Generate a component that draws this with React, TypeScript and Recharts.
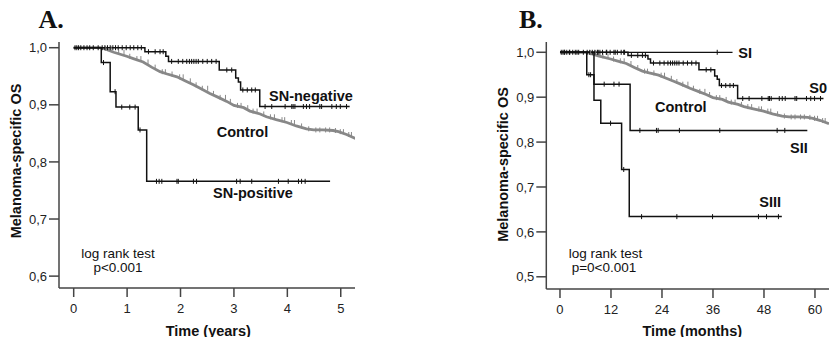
import React from 'react';
import { ComposedChart, Line, Scatter, XAxis, YAxis } from 'recharts';

// ---------- axes ----------
const monthTicks = [0, 12, 24, 36, 48, 60];
const yearTickLabels = ['0', '1', '2', '3', '4', '5'];
const monthTickLabels = ['0', '12', '24', '36', '48', '60'];
const osTicksA = [0.6, 0.7, 0.8, 0.9, 1.0];
const osTickLabelsA = ['0,6', '0,7', '0,8', '0,9', '1,0'];
const osTicksB = [0.5, 0.6, 0.7, 0.8, 0.9, 1.0];
const osTickLabelsB = ['0,5', '0,6', '0,7', '0,8', '0,9', '1,0'];

// ---------- curves (time in months, melanoma-specific OS) ----------
// Control group
const controlTimes = [0, 5.9, 6.6, 9, 11.9, 13.4, 15.6, 17.5, 19.4, 21, 23.2, 25, 26.9, 28.4, 30.6, 32.5, 34.4, 36, 38.2, 39.6, 41.9, 43.3, 45.5, 47.9, 50, 52.3, 53.9, 56, 58.3, 59.5, 61.3, 63.3];
const controlSurv = [1, 1, 0.999, 0.992, 0.985, 0.981, 0.975, 0.966, 0.958, 0.954, 0.949, 0.942, 0.935, 0.929, 0.92, 0.913, 0.906, 0.899, 0.895, 0.889, 0.884, 0.879, 0.874, 0.869, 0.863, 0.858, 0.856, 0.856, 0.855, 0.853, 0.848, 0.841];
const controlCensor = [7.2, 8.4, 10.1, 11.3, 12.6, 14.2, 15.1, 16.7, 18.3, 19.9, 20.6, 22.1, 23.8, 24.6, 26.2, 27.5, 28.9, 30.1, 31.4, 32.9, 34.1, 35.2, 36.8, 37.6, 39.1, 40.3, 41.2, 42.7, 44.2, 45.1, 46.8, 47.4, 48.9, 49.6, 51.2, 52.8, 54.4, 55.3, 56.6, 57.5, 58.8, 59.9, 60.6, 61.8, 62.4];

// SN-negative (= S0)
const snNegTimes = [0, 16, 20.7, 21.3, 32.7, 36.4, 37, 37.5, 41.8, 62];
const snNegSurv = [1, 0.993, 0.985, 0.976, 0.961, 0.947, 0.94, 0.926, 0.897, 0.897];
const snNegCensor = [0.3, 0.7, 1.1, 1.6, 2.3, 3, 3.6, 4.4, 5.5, 6.4, 7, 7.6, 8.2, 8.8, 9.4, 10, 10.9, 11.8, 12.7, 13.5, 14.4, 15.2, 16.8, 18.3, 19.4, 20.1, 22, 23.5, 24.5, 25.4, 26, 26.5, 27, 27.5, 28, 29, 30, 31, 32, 34.4, 35.5, 38, 39, 40, 40.8, 43, 44.5, 47.5, 49, 49.3, 49.7, 51.6, 52.3, 53, 55.3, 55.7, 58, 59, 59.9, 61.3];

// SN-positive
const snPosTimes = [0, 6.2, 8.2, 9.5, 14.5, 16.4, 57.6];
const snPosSurv = [1, 0.974, 0.923, 0.896, 0.856, 0.766, 0.766];
const snPosCensor = [6.7, 9.3, 10.8, 12.6, 13.8, 14.9, 18.6, 19.2, 19.8, 23.2, 23.5, 26.9, 27.6, 36.6, 37.4, 40, 46, 48.2, 50.5, 51.2, 52];

// SI
const s1Times = [0, 40.6];
const s1Surv = [1, 1];
const s1Censor = [1, 2.2, 4, 9, 11, 13, 15, 37];

// SII
const s2Times = [0, 6.3, 8, 16.5, 58.2];
const s2Surv = [1, 0.95, 0.929, 0.826, 0.826];
const s2Censor = [6.8, 7.2, 10.4, 12.7, 13.9, 18.8, 22.7, 23.1, 28.1, 37.6, 51.1, 52.9];

// SIII
const s3Times = [0, 8, 9.6, 14.5, 16.3, 52.2];
const s3Surv = [1, 0.893, 0.842, 0.739, 0.634, 0.634];
const s3Censor = [11.9, 15, 19.2, 27.5, 35.9, 46.7, 48.6, 51.4];

// ---------- helpers ----------
const toSteps = (times: number[], surv: number[]) => times.map((t, i) => ({ t, s: surv[i] }));
const survAt = (times: number[], surv: number[], t: number) => {
  let v = surv[0];
  for (let i = 0; i < times.length; i++) if (times[i] <= t) v = surv[i];
  return v;
};
const toMarks = (times: number[], surv: number[], censor: number[]) =>
  censor.map((t) => ({ t, s: survAt(times, surv, t) }));

const FONT = '"Liberation Sans", Arial, sans-serif';
const AXIS = '#444';

const tickShape = (color: string, h: number) => (p: any) => (
  <line x1={p.cx} x2={p.cx} y1={p.cy - h} y2={p.cy + h} stroke={color} strokeWidth={1} />
);

type Curve = { times: number[]; surv: number[]; censor: number[]; color: string; width: number; type: 'stepAfter' | 'linear'; tick: number };

const curvesA: Curve[] = [
  { times: controlTimes, surv: controlSurv, censor: controlCensor, color: '#888', width: 2.8, type: 'linear', tick: 2.5 },
  { times: snNegTimes, surv: snNegSurv, censor: snNegCensor, color: '#111', width: 1.5, type: 'stepAfter', tick: 2.5 },
  { times: snPosTimes, surv: snPosSurv, censor: snPosCensor, color: '#111', width: 1.5, type: 'stepAfter', tick: 2.5 },
];
const curvesB: Curve[] = [
  { times: controlTimes, surv: controlSurv, censor: controlCensor, color: '#888', width: 2.8, type: 'linear', tick: 2.5 },
  { times: s1Times, surv: s1Surv, censor: s1Censor, color: '#111', width: 1.3, type: 'stepAfter', tick: 2.5 },
  { times: snNegTimes, surv: snNegSurv, censor: snNegCensor, color: '#111', width: 1.5, type: 'stepAfter', tick: 2.5 },
  { times: s2Times, surv: s2Surv, censor: s2Censor, color: '#111', width: 1.5, type: 'stepAfter', tick: 2.5 },
  { times: s3Times, surv: s3Surv, censor: s3Censor, color: '#111', width: 1.5, type: 'stepAfter', tick: 2.5 },
];

function renderCurves(curves: Curve[], prefix: string) {
  const out: any[] = [];
  curves.forEach((c, i) => {
    out.push(
      <Line
        key={`${prefix}l${i}`}
        data={toSteps(c.times, c.surv)}
        dataKey="s"
        type={c.type}
        stroke={c.color}
        strokeWidth={c.width}
        dot={false}
        activeDot={false}
        isAnimationActive={false}
      />
    );
    out.push(
      <Scatter
        key={`${prefix}s${i}`}
        data={toMarks(c.times, c.surv, c.censor)}
        dataKey="s"
        shape={tickShape(c.color, c.tick)}
        isAnimationActive={false}
      />
    );
  });
  return out;
}

const tickStyle = { fontSize: 13, fill: '#222', fontFamily: FONT };

function PanelA() {
  return (
    <ComposedChart width={415} height={337} margin={{ top: 42, right: 60, bottom: 0, left: 0 }}>
      <XAxis
        dataKey="t"
        type="number"
        domain={[-3.3, 63.2]}
        allowDataOverflow
        ticks={monthTicks}
        tickFormatter={(v: number) => yearTickLabels[monthTicks.indexOf(v)]}
        height={49}
        tickSize={9}
        tickMargin={7}
        stroke={AXIS}
        strokeWidth={1.5}
        tick={tickStyle}
      />
      <YAxis
        type="number"
        domain={[0.5792, 1.01]}
        allowDataOverflow
        ticks={osTicksA}
        tickFormatter={(v: number) => osTickLabelsA[osTicksA.indexOf(v)]}
        width={59}
        tickSize={10}
        tickMargin={2}
        stroke={AXIS}
        strokeWidth={1.5}
        tick={tickStyle}
      />
      {renderCurves(curvesA, 'a')}
    </ComposedChart>
  );
}

function PanelB() {
  return (
    <ComposedChart width={415} height={337} margin={{ top: 42, right: 0, bottom: 0, left: 74 }}>
      <XAxis
        dataKey="t"
        type="number"
        domain={[-3.22, 63.3]}
        allowDataOverflow
        ticks={monthTicks}
        tickFormatter={(v: number) => monthTickLabels[monthTicks.indexOf(v)]}
        height={48}
        tickSize={9}
        tickMargin={7}
        stroke={AXIS}
        strokeWidth={1.5}
        tick={tickStyle}
      />
      <YAxis
        type="number"
        domain={[0.4728, 1.0229]}
        allowDataOverflow
        ticks={osTicksB}
        tickFormatter={(v: number) => osTickLabelsB[osTicksB.indexOf(v)]}
        width={58.3}
        tickSize={10}
        tickMargin={2}
        stroke={AXIS}
        strokeWidth={1.5}
        tick={tickStyle}
      />
      {renderCurves(curvesB, 'b')}
    </ComposedChart>
  );
}

const bold = { fontFamily: FONT, fontWeight: 700, fontSize: 14.5, fill: '#111' } as const;
const plain = { fontFamily: FONT, fontSize: 13.5, fill: '#111' } as const;

export default function App() {
  return (
    <div style={{ position: 'absolute', left: 0, top: 0, width: 829, height: 337, overflow: 'hidden', background: '#fff' }}>
      <div style={{ position: 'absolute', left: 0, top: 0 }}>
        <PanelA />
      </div>
      <div style={{ position: 'absolute', left: 414, top: 0 }}>
        <PanelB />
      </div>
      <svg width={829} height={337} style={{ position: 'absolute', left: 0, top: 0, pointerEvents: 'none' }}>
        <text x={38.5} y={27.5} style={{ fontFamily: '"Liberation Serif", "Times New Roman", serif', fontWeight: 700, fontSize: 26 }} fill="#111">A.</text>
        <text x={519} y={27.5} style={{ fontFamily: '"Liberation Serif", "Times New Roman", serif', fontWeight: 700, fontSize: 26 }} fill="#111">B.</text>

        <text transform="translate(15.3,161) rotate(-90)" dy="0.36em" textAnchor="middle" style={bold}>Melanoma-specific OS</text>
        <text transform="translate(503.2,164.5) rotate(-90)" dy="0.36em" textAnchor="middle" style={bold}>Melanoma-specific OS</text>
        <text x={208.3} y={335.5} textAnchor="middle" style={bold}>Time (years)</text>
        <text x={692.3} y={335.5} textAnchor="middle" style={bold}>Time (months)</text>

        <text x={269} y={101} style={bold}>SN-negative</text>
        <text x={216.7} y={136.7} style={bold}>Control</text>
        <text x={213} y={198.3} style={bold}>SN-positive</text>
        <text x={118} y={257.5} textAnchor="middle" style={plain}>log rank test</text>
        <text x={118} y={272} textAnchor="middle" style={plain}>p&lt;0.001</text>

        <text x={738.3} y={58.3} style={bold}>SI</text>
        <text x={809.3} y={93.3} style={bold}>S0</text>
        <text x={655} y={111.5} style={bold}>Control</text>
        <text x={790} y={153.3} style={bold}>SII</text>
        <text x={759.3} y={206.7} style={bold}>SIII</text>
        <text x={605.5} y={257.5} textAnchor="middle" style={plain}>log rank test</text>
        <text x={604} y={272} textAnchor="middle" style={plain}>p=0&lt;0.001</text>
      </svg>
    </div>
  );
}
